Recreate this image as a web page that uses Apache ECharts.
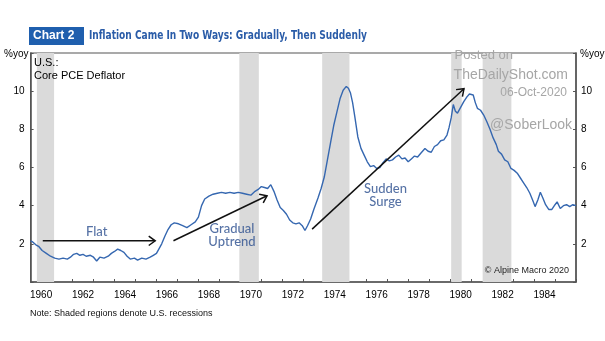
<!DOCTYPE html>
<html>
<head>
<meta charset="utf-8">
<script src="https://cdn.jsdelivr.net/npm/echarts@6/dist/echarts.min.js"></script>
<style>html,body{margin:0;padding:0;background:#fff;}#c{width:605px;height:341px;}</style>
</head>
<body>
<div id="c"></div>
<script>
// ---- data ----
var years = [1960.00,1960.10,1960.25,1960.40,1960.55,1960.75,1960.95,1961.15,1961.35,1961.55,1961.75,1961.90,
1962.05,1962.20,1962.35,1962.50,1962.65,1962.85,1963.00,1963.15,1963.30,1963.50,1963.70,1963.85,
1964.00,1964.15,1964.30,1964.45,1964.60,1964.75,1964.95,1965.10,1965.30,1965.50,1965.70,1965.85,
1966.00,1966.10,1966.25,1966.40,1966.55,1966.70,1966.85,1967.05,1967.25,1967.45,1967.65,1967.85,
1968.00,1968.15,1968.30,1968.50,1968.70,1968.90,1969.10,1969.30,1969.50,1969.70,1969.90,
1970.10,1970.30,1970.50,1970.70,1970.85,1971.00,1971.15,1971.30,1971.45,1971.60,1971.75,1971.90,
1972.05,1972.20,1972.35,1972.50,1972.65,1972.80,1972.95,1973.08,1973.20,1973.35,1973.50,1973.70,1973.85,
1974.00,1974.15,1974.30,1974.45,1974.60,1974.75,1974.90,1975.05,1975.15,1975.25,1975.35,1975.45,1975.60,1975.75,1975.90,
1976.05,1976.20,1976.35,1976.50,1976.65,1976.80,1976.95,1977.10,1977.25,1977.40,1977.55,1977.70,1977.85,
1978.00,1978.15,1978.30,1978.45,1978.60,1978.80,1978.95,1979.10,1979.25,1979.40,1979.55,1979.70,1979.85,1979.95,
1980.05,1980.15,1980.25,1980.35,1980.50,1980.65,1980.80,1980.92,1981.00,1981.10,1981.20,1981.30,1981.45,1981.60,1981.75,1981.90,
1982.05,1982.20,1982.30,1982.45,1982.60,1982.75,1982.90,1983.05,1983.20,1983.35,1983.50,1983.65,1983.80,1983.95,
1984.05,1984.18,1984.30,1984.42,1984.55,1984.70,1984.85,1985.00,1985.10,1985.25,1985.40,1985.55,1985.70,1985.85,1986.00];
var corePCE = [2.15,2.10,1.95,1.85,1.65,1.50,1.35,1.25,1.20,1.25,1.20,1.30,
1.45,1.50,1.40,1.45,1.35,1.40,1.30,1.10,1.30,1.25,1.35,1.50,
1.60,1.72,1.65,1.55,1.35,1.20,1.25,1.15,1.25,1.20,1.30,1.40,
1.50,1.70,2.00,2.40,2.75,3.00,3.10,3.05,2.95,2.85,3.00,3.15,
3.40,4.00,4.35,4.50,4.60,4.65,4.70,4.65,4.70,4.65,4.70,
4.65,4.60,4.55,4.75,4.85,5.00,4.95,4.90,5.10,4.75,4.30,3.90,
3.75,3.55,3.25,3.10,3.05,3.10,2.95,2.70,2.95,3.30,3.80,4.40,4.90,
5.50,6.40,7.30,8.20,8.90,9.60,10.05,10.25,10.15,9.90,9.40,8.70,7.60,7.00,6.65,
6.30,6.05,6.10,5.95,6.00,6.25,6.45,6.35,6.40,6.55,6.65,6.45,6.50,
6.30,6.45,6.60,6.55,6.75,7.00,6.85,6.80,7.10,7.20,7.40,7.45,7.70,8.10,
8.60,9.30,8.95,8.85,9.15,9.45,9.70,9.85,9.75,9.80,9.40,9.10,9.00,8.75,8.40,8.00,
7.55,7.20,6.85,6.70,6.40,6.30,5.95,5.85,5.70,5.45,5.20,4.95,4.65,4.25,
3.95,4.30,4.70,4.40,4.05,3.80,3.80,4.05,4.20,3.85,4.00,4.05,3.95,4.05,4.00];
// recession periods (decimal years)
var recessions = [[1960.30,1961.12],[1969.95,1970.88],[1973.90,1975.20],[1980.05,1980.55],[1981.55,1982.92]];
// arrows: [x1, y1, x2, y2] in data units
var arrows = [[1960.58,2.16,1965.94,2.16],[1966.81,2.16,1971.27,4.52],[1973.42,2.77,1980.66,10.13]];
// annotation labels
var noteText = ['Flat','Gradual\nUptrend','Sudden\nSurge'];
var noteX = [1963.15,1969.60,1976.92];
var noteY = [2.65,2.45,4.55];
var yTicks = [2,4,6,8,10];

var chart = echarts.init(document.getElementById('c'), null, {renderer:'canvas'});
var axisColor = '#555';
var lbl = {color:'#000', fontSize:10, fontFamily:'Liberation Sans, Arial, sans-serif'};
var wm = '#a6a6a6';
var F = '"Liberation Sans", Arial, sans-serif';
function txt(pos, text, fill, font, extra){
  var o = Object.assign({type:'text', z:100, style:{text:text, fill:fill, font:font}}, pos);
  return Object.assign(o, extra || {});
}
chart.setOption({
  animation:false,
  backgroundColor:'#fff',
  grid:{left:30.6, right:29, top:53, bottom:59, show:true, borderColor:axisColor, borderWidth:1.2},
  xAxis:{type:'value', min:1960, max:1986, interval:1,
    axisLine:{show:true, lineStyle:{color:axisColor, width:1.5}},
    axisTick:{show:true, inside:true, length:3, lineStyle:{color:axisColor}},
    splitLine:{show:false},
    axisLabel:Object.assign({margin:8, padding:[0,0,0,21],
      formatter:function(v){return (v%2===0 && v<1986)?String(v):'';}}, lbl)
  },
  yAxis:[
    {type:'value', min:0, max:12, interval:2, position:'left',
     axisLine:{show:true, lineStyle:{color:axisColor, width:1.5}},
     axisTick:{show:true, inside:true, length:3, lineStyle:{color:axisColor}},
     splitLine:{show:false},
     axisLabel:Object.assign({margin:6, formatter:function(v){return yTicks.indexOf(v)>=0?String(v):'';}}, lbl)},
    {type:'value', min:0, max:12, interval:2, position:'right',
     axisLine:{show:true, lineStyle:{color:axisColor, width:1.5}},
     axisTick:{show:true, inside:true, length:3, lineStyle:{color:axisColor}},
     splitLine:{show:false},
     axisLabel:Object.assign({margin:5, formatter:function(v){return yTicks.indexOf(v)>=0?String(v):'';}}, lbl)}
  ],
  series:[
    {type:'line', data:[], z:1, silent:true,
     markArea:{silent:true, itemStyle:{color:'#dadada'},
       data:recessions.map(function(r){return [{xAxis:r[0]},{xAxis:r[1]}];})}},
    {type:'line', z:3, showSymbol:false, symbol:'none',
     lineStyle:{color:'#3567b0', width:1.4},
     data:years.map(function(y,i){return [y, corePCE[i]];})},
    {type:'custom', z:4, silent:true,
     encode:{x:[0,2], y:[1,3]},
     data:arrows,
     renderItem:function(params, api){
       var p1 = api.coord([api.value(0), api.value(1)]);
       var p2 = api.coord([api.value(2), api.value(3)]);
       var ang = Math.atan2(p2[1]-p1[1], p2[0]-p1[0]);
       var L = 8, a = Math.PI/5;
       var h1 = [p2[0]-L*Math.cos(ang-a), p2[1]-L*Math.sin(ang-a)];
       var h2 = [p2[0]-L*Math.cos(ang+a), p2[1]-L*Math.sin(ang+a)];
       return {type:'group', children:[
         {type:'line', shape:{x1:p1[0],y1:p1[1],x2:p2[0],y2:p2[1]}, style:{stroke:'#111', lineWidth:1.5}},
         {type:'polyline', shape:{points:[h1,p2,h2]}, style:{stroke:'#111', lineWidth:1.5, fill:null}}
       ]};
     }},
    {type:'scatter', z:5, silent:true, symbolSize:0,
     data:noteText.map(function(t,i){return {value:[noteX[i], noteY[i]], label:{show:true, formatter:t}};}),
     label:{show:true, position:'inside', color:'#2c4f8f', fontSize:13, lineHeight:13, fontWeight:500,
       fontFamily:'Lato, Open Sans, sans-serif', align:'center', verticalAlign:'middle'}}
  ],
  graphic:[
    {type:'rect', z:100, left:29, top:27, shape:{width:55, height:18}, style:{fill:'#1f5fae'}},
    txt({left:33, top:30}, 'Chart 2', '#fff', 'bold 12px ' + F),
    {type:'text', z:100, x:89, y:30, scaleX:0.84, style:{text:'Inflation Came In Two Ways: Gradually, Then Suddenly', fill:'#2a5ca8', font:'bold 12px "Liberation Sans Narrow", "DejaVu Sans Condensed", sans-serif'}},
    txt({left:4, top:49}, '%yoy', '#000', '10px ' + F),
    txt({left:580, top:49}, '%yoy', '#000', '10px ' + F),
    txt({left:34, top:57}, 'U.S.:', '#000', '11px ' + F),
    txt({left:34, top:70}, 'Core PCE Deflator', '#000', '11px ' + F),
    txt({right:92, top:49}, 'Posted on', wm, '13px ' + F),
    txt({right:37, top:68}, 'TheDailyShot.com', wm, '14px ' + F),
    txt({right:38, top:87}, '06-Oct-2020', wm, '12px ' + F),
    txt({right:33, top:118}, '@SoberLook', wm, '14px ' + F),
    txt({right:36, top:266}, '\u00a9 Alpine Macro 2020', '#222', '9px ' + F),
    txt({left:30, top:309}, 'Note: Shaded regions denote U.S. recessions', '#111', '9px ' + F)
  ]
});
</script>
</body>
</html>
